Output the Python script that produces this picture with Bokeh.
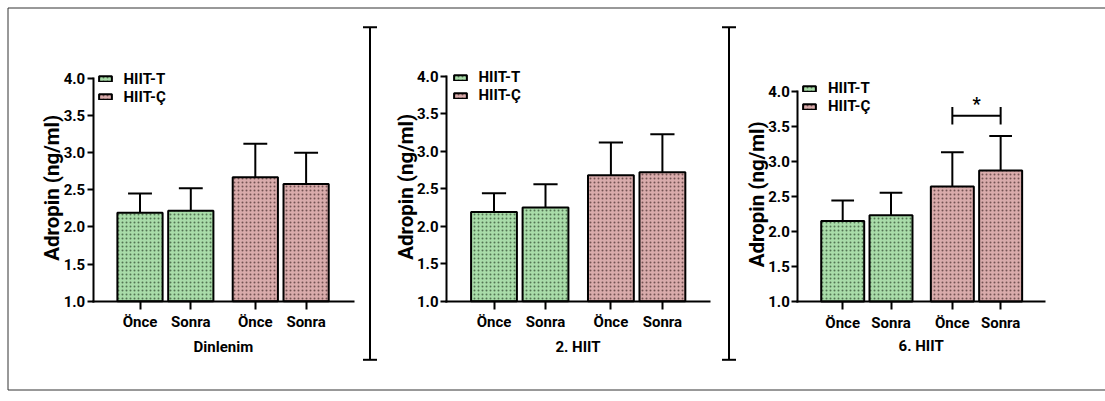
from math import pi
from bokeh.plotting import figure
from bokeh.models import (Range1d, LinearAxis, FixedTicker, CustomJSTickFormatter,
                          PrintfTickFormatter, Legend, LegendItem, Label, ColumnDataSource)
from bokeh.embed import file_html
from bokeh.resources import INLINE

# ---------------- data ----------------
categories = ["Önce", "Sonra", "Önce", "Sonra"]
groups = ["HIIT-T", "HIIT-Ç"]
panel_titles = ["Dinlenim", "2. HIIT", "6. HIIT"]
y_label = "Adropin (ng/ml)"
y_ticks = [1.0, 1.5, 2.0, 2.5, 3.0, 3.5, 4.0]

dinlenim_mean = [2.19, 2.22, 2.67, 2.58]
dinlenim_sd = [0.26, 0.30, 0.45, 0.42]
hiit2_mean = [2.19, 2.25, 2.68, 2.72]
hiit2_sd = [0.25, 0.31, 0.44, 0.51]
hiit6_mean = [2.15, 2.23, 2.64, 2.87]
hiit6_sd = [0.29, 0.32, 0.49, 0.49]
sig_label = "*"          # 6. HIIT, HIIT-Ç: Önce vs Sonra
sig_level = 3.65

# ---------------- layout / style ----------------
W, H = 1105, 401
slots = [0.0, 1.0, 2.27, 3.27]
BAR_W = 0.89
CAP_W = 0.47
GREEN, PINK = "#a9dca9", "#d9abab"
NARROW = "Roboto"
WIDE = "Roboto"

panels = [
    dict(mean=dinlenim_mean, sd=dinlenim_sd, title=panel_titles[0],
         c0=139.5, u=50.8, ax_l=92.7, ax_r=353.0, y4=78.0, y1=300.7,
         leg_x=96.5, leg_top=73.7, leg_sp=0, title_y=346.7),
    dict(mean=hiit2_mean, sd=hiit2_sd, title=panel_titles[1],
         c0=493.5, u=51.5, ax_l=446.0, ax_r=709.0, y4=76.0, y1=300.7,
         leg_x=451.5, leg_top=72.0, leg_sp=0, title_y=346.7),
    dict(mean=hiit6_mean, sd=hiit6_sd, title=panel_titles[2],
         c0=842.2, u=48.3, ax_l=797.3, ax_r=1044.0, y4=90.7, y1=301.0,
         leg_x=801.0, leg_top=85.0, leg_sp=-2, title_y=345.0),
]

p = figure(width=W, height=H, x_range=Range1d(0, W), y_range=Range1d(H, 0),
           output_backend="svg", toolbar_location=None, min_border=0,
           x_axis_type=None, y_axis_type=None)
p.outline_line_color = None
p.grid.visible = False
p.background_fill_color = "white"
p.border_fill_color = "white"

# outer frame (open on the right) and panel separators, in pixel space
bl, bt, bb = 7.5, 7.5, 389.5
p.segment(x0=[bl, bl, bl], y0=[bt, bb, bt], x1=[W, W, bl], y1=[bt, bb, bb],
          line_color="#333333", line_width=1)
sep_x = [369.5, 728.5]
sep_top, sep_bot, sep_cap = 26.7, 359.3, 7
for sx in sep_x:
    p.segment(x0=[sx, sx - sep_cap, sx - sep_cap], y0=[sep_top, sep_top, sep_bot],
              x1=[sx, sx + sep_cap, sx + sep_cap], y1=[sep_bot, sep_top, sep_bot],
              line_color="black", line_width=2)

for i, pp in enumerate(panels):
    name = f"p{i}"
    c0, u = pp["c0"], pp["u"]
    k = (pp["y1"] - pp["y4"]) / 3.0
    p.extra_x_ranges[name] = Range1d((0 - c0) / u, (W - c0) / u)
    p.extra_y_ranges[name] = Range1d(1 - (H - pp["y1"]) / k, 4 + pp["y4"] / k)
    rk = dict(x_range_name=name, y_range_name=name)

    upper = [m + s for m, s in zip(pp["mean"], pp["sd"])]
    # error bars (upper whisker only)
    p.segment(x0=slots, y0=pp["mean"], x1=slots, y1=upper,
              line_color="black", line_width=2, **rk)
    p.segment(x0=[s - CAP_W / 2 for s in slots], y0=upper,
              x1=[s + CAP_W / 2 for s in slots], y1=upper,
              line_color="black", line_width=2, **rk)

    rends = []
    for g, (col, hcol) in enumerate([(GREEN, "#3d5a3d"), (PINK, "#5a3d3d")]):
        src = ColumnDataSource(dict(x=slots[2 * g:2 * g + 2], top=pp["mean"][2 * g:2 * g + 2]))
        r = p.vbar(x="x", top="top", bottom=1.0, width=BAR_W, source=src,
                   fill_color=col, line_color="black", line_width=2,
                   hatch_pattern="dot", hatch_color=hcol, hatch_scale=4,
                   hatch_weight=1, hatch_alpha=0.8, **rk)
        rends.append(r)

    # axes
    yax = LinearAxis(fixed_location=(pp["ax_l"] - c0) / u, bounds=(1, 4),
                     ticker=FixedTicker(ticks=y_ticks),
                     formatter=PrintfTickFormatter(format="%.1f"), **rk)
    xax = LinearAxis(fixed_location=1.0, bounds=((pp["ax_l"] - c0) / u, (pp["ax_r"] - c0) / u),
                     ticker=FixedTicker(ticks=slots),
                     formatter=CustomJSTickFormatter(args=dict(names=categories),
                                                     code="return names[index]"), **rk)
    for ax in (yax, xax):
        ax.axis_line_width = 2
        ax.axis_line_cap = "square"
        ax.major_tick_line_width = 2
        ax.major_tick_in = 0
        ax.minor_tick_line_color = None
        ax.major_label_text_font = NARROW
        ax.major_label_text_font_style = "bold"
        ax.major_label_text_color = "black"
    yax.major_tick_out = 6
    yax.major_label_standoff = 2
    yax.major_label_text_font_size = "15px"
    xax.major_tick_out = 8
    xax.major_label_standoff = 4
    xax.major_label_text_font_size = "15px"
    p.add_layout(yax, "left")
    p.add_layout(xax, "below")

    # axis titles
    p.add_layout(Label(x=(pp["ax_l"] + pp["ax_r"]) / 2, y=pp["title_y"], text=pp["title"],
                       text_align="center", text_baseline="middle", text_font=NARROW,
                       text_font_style="bold", text_font_size="15px", text_color="black"))
    p.add_layout(Label(x=pp["ax_l"] - 41, y=(pp["y4"] + pp["y1"]) / 2 - 2, text=y_label,
                       angle=pi / 2, text_align="center", text_baseline="middle",
                       text_font=WIDE, text_font_style="bold", text_font_size="20.5px",
                       text_color="black"))

    # legend
    lh = 16
    leg_h = 2 * lh + pp["leg_sp"]
    leg = Legend(items=[LegendItem(label=groups[0], renderers=[rends[0]]),
                        LegendItem(label=groups[1], renderers=[rends[1]])],
                 location=(pp["leg_x"], H - pp["leg_top"] - leg_h),
                 glyph_width=16, glyph_height=7, label_height=lh, label_standoff=11,
                 spacing=pp["leg_sp"], padding=0, margin=0, border_line_color=None,
                 background_fill_alpha=0, label_text_font=NARROW,
                 label_text_font_style="bold", label_text_font_size="15px",
                 label_text_color="black")
    p.add_layout(leg, "center")

    if i == 2:
        tick = 0.125
        p.segment(x0=[slots[2], slots[2], slots[3]], y0=[sig_level, sig_level - tick, sig_level - tick],
                  x1=[slots[3], slots[2], slots[3]], y1=[sig_level, sig_level + tick, sig_level + tick],
                  line_color="black", line_width=2, **rk)
        p.add_layout(Label(x=(slots[2] + slots[3]) / 2, y=sig_level + 0.17, text=sig_label,
                           text_align="center", text_baseline="middle", text_font=WIDE,
                           text_font_style="bold", text_font_size="18px", text_color="black",
                           **rk))

open("out.html", "w").write(file_html(p, INLINE))
